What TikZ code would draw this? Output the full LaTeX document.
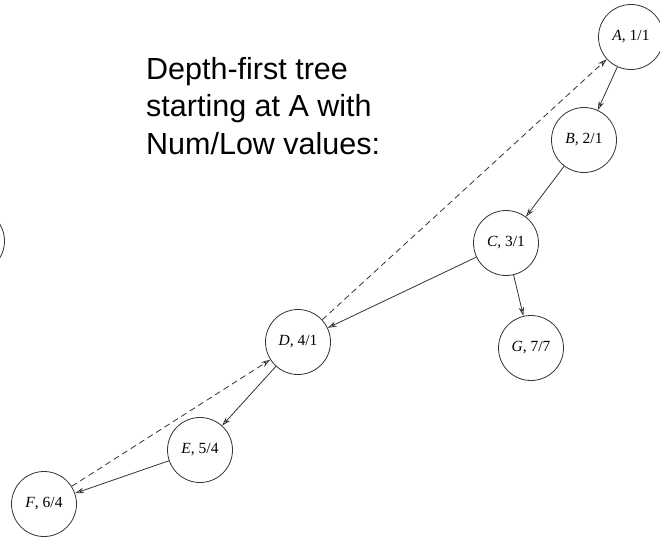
\documentclass[tikz,border=0pt]{standalone}
\usepackage{fontspec}
\setmainfont{Liberation Serif}
\newfontfamily\headfont{Liberation Sans}
\usetikzlibrary{arrows.meta}

\begin{document}
\begin{tikzpicture}[x=1pt,y=-1pt,
  vertex/.style={circle,draw=black!80,line width=0.8pt,minimum size=65pt,inner sep=0pt,
                 font=\fontsize{15.5}{17}\selectfont},
  tree/.style={draw=black!80,line width=0.8pt,-{Stealth[length=9pt,width=5.5pt,inset=3pt,open]}},
  back/.style={tree,dash pattern=on 6pt off 4pt}]
  \useasboundingbox (0,0) rectangle (660,536);

  \node[anchor=north west,align=left,inner sep=0pt,
        font=\headfont\fontsize{30.5}{37.5}\selectfont] (title) at (146,57)
    {Depth-first tree\\starting at A with\\Num/Low values:};

  \node[vertex] (A) at (631,37)  {\textit{A}, 1/1};
  \node[vertex] (B) at (584,140) {\textit{B}, 2/1};
  \node[vertex] (C) at (506,243) {\textit{C}, 3/1};
  \node[vertex] (D) at (298,342) {\textit{D}, 4/1};
  \node[vertex] (G) at (531,348) {\textit{G}, 7/7};
  \node[vertex] (E) at (200,450) {\textit{E}, 5/4};
  \node[vertex] (F) at (44,504)  {\textit{F}, 6/4};
  \node[vertex] (H) at (-28,241) {};

  % tree edges
  \draw[tree] (A) -- (B);
  \draw[tree] (B) -- (C);
  \draw[tree] (C) -- (D);
  \draw[tree] (C) -- (G);
  \draw[tree] (D) -- (E);
  \draw[tree] (E) -- (F);

  % back edges
  \draw[back] (F) -- (D);
  \draw[back] (D) -- (A);
\end{tikzpicture}
\end{document}
